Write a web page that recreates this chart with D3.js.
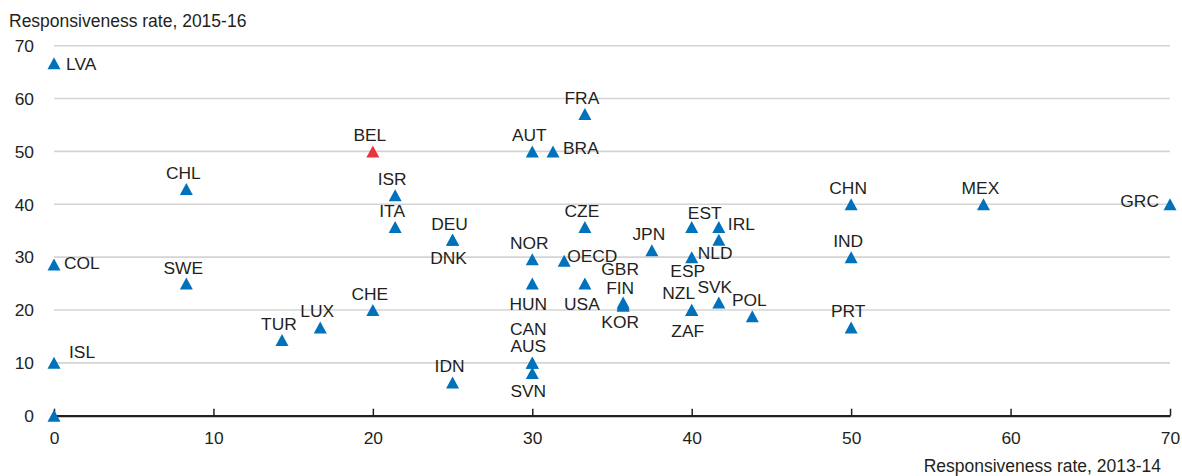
<!DOCTYPE html>
<html>
<head>
<meta charset="utf-8">
<script src="https://cdn.jsdelivr.net/npm/d3@7"></script>
<style>
  body { margin: 0; background: #fff; }
  text { font-family: "Liberation Sans", Arial, sans-serif; fill: #231f20; }
</style>
</head>
<body>
<div id="chart"></div>
<script>
// country codes and responsiveness rates (x: 2013-14, y: 2015-16)
var countries = ["LVA","BEL","CHL","ISR","ITA","COL","SWE","CHE","TUR","LUX","ISL","ZERO",
                 "IDN","AUT","BRA","FRA","CZE","DEU","DNK","NOR","OECD","JPN","EST","IRL",
                 "NLD","ESP","HUN","USA","GBR","FIN","KOR","NZL","ZAF","SVK","POL",
                 "CAN","AUS","SVN","CHN","MEX","GRC","IND","PRT"];
var rate2013 = [0, 20, 8.3, 21.4, 21.4, 0, 8.3, 20, 14.3, 16.7, 0, 0,
                25, 30, 31.3, 33.3, 33.3, 25, 25, 30, 32, 37.5, 40, 41.7,
                41.7, 40, 30, 33.3, 35.7, 35.7, 35.7, 40, 40, 41.7, 43.8,
                30, 30, 30, 50, 58.3, 70, 50, 50];
var rate2015 = [66.7, 50, 42.9, 41.7, 35.7, 28.6, 25, 20, 14.3, 16.7, 10, 0,
                6.3, 50, 50, 57.1, 35.7, 33.3, 33.3, 29.6, 29.3, 31.3, 35.7, 35.7,
                33.3, 30, 25, 25, 21.4, 21.1, 20.8, 20, 20, 21.4, 18.8,
                10, 10, 8.1, 40, 40, 40, 30, 16.7];
var highlight = ["BEL"];
var xTicks = [0, 10, 20, 30, 40, 50, 60, 70];
var yTicks = [0, 10, 20, 30, 40, 50, 60, 70];

// label placement: [dx, dy, anchor]
var labelPos = {
  LVA: [12, 7, "start"], COL: [10, 4, "start"], ISL: [15, -5, "start"], ZERO: null,
  BRA: [10, 3, "start"], OECD: [3, 1, "start"], IRL: [9, 3, "start"],
  NLD: [-21, 19, "start"], ESP: [-4, 20, "middle"],
  DNK: [-4, 24, "middle"], HUN: [-4, 26, "middle"], USA: [-3, 26, "middle"],
  GBR: [-3, -28, "middle"], FIN: [-3, -10, "middle"], KOR: [-3, 22, "middle"],
  NZL: [-13, -11, "middle"], ZAF: [-4, 27, "middle"], SVK: [-4, -10, "middle"],
  EST: [13, -8, "middle"], CAN: [-4, -28, "middle"], AUS: [-4, -11, "middle"],
  SVN: [-4, 24, "middle"], GRC: [-11, 3, "end"], LUX: [-3, -10, "middle"]
};

var data = countries.map(function(c, i){
  return {name: c, x: rate2013[i], y: rate2015[i]};
});

var width = 1182, height = 476;
var margin = {top: 46, right: 12, bottom: 60, left: 54};

var svg = d3.select("#chart").append("svg")
  .attr("width", width)
  .attr("height", height);

var x = d3.scaleLinear().domain([0, 70]).range([margin.left, 1170]);
var y = d3.scaleLinear().domain([0, 70]).range([415.7, 45.7]);

// gridlines
svg.append("g")
  .selectAll("line")
  .data(yTicks.filter(function(d){ return d > 0; }))
  .enter().append("line")
  .attr("x1", x(0)).attr("x2", x(70))
  .attr("y1", function(d){ return y(d); })
  .attr("y2", function(d){ return y(d); })
  .style("stroke", "#d4d4d4")
  .style("stroke-width", 1.6);

// y tick labels
svg.append("g")
  .selectAll("text")
  .data(yTicks)
  .enter().append("text")
  .attr("x", 34)
  .attr("y", function(d){ return y(d); })
  .attr("dy", "0.36em")
  .style("text-anchor", "end")
  .style("font-size", "17.4px")
  .text(function(d){ return d; });

// x axis
var xAxis = d3.axisBottom(x).tickValues(xTicks).tickSize(0).tickPadding(16);
var gx = svg.append("g")
  .attr("transform", "translate(0," + y(0) + ")")
  .call(xAxis);
gx.select(".domain").style("stroke", "#231f20").style("stroke-width", 2.2);
gx.selectAll("text")
  .style("font-size", "17.4px")
  .style("font-family", "Liberation Sans, Arial, sans-serif")
  .attr("fill", "#231f20");
gx.selectAll(".tick").append("line")
  .attr("y1", 0).attr("y2", -7)
  .style("stroke", "#231f20").style("stroke-width", 1.5);

// axis titles
svg.append("text")
  .attr("x", 9).attr("y", 26.5)
  .style("font-size", "17.5px")
  .text("Responsiveness rate, 2015-16");
svg.append("text")
  .attr("x", 1161).attr("y", 471.5)
  .style("text-anchor", "end")
  .style("font-size", "17.5px")
  .text("Responsiveness rate, 2013-14");

// triangle centred on its bounding box
var tri = {
  draw: function(context, size){
    var w = 13, h = 12;
    context.moveTo(0, -h / 2);
    context.lineTo(w / 2, h / 2);
    context.lineTo(-w / 2, h / 2);
    context.closePath();
  }
};

svg.append("g")
  .selectAll("path")
  .data(data)
  .enter().append("path")
  .attr("d", d3.symbol().type(tri))
  .attr("transform", function(d){ return "translate(" + x(d.x) + "," + y(d.y) + ")"; })
  .style("fill", function(d){ return highlight.indexOf(d.name) >= 0 ? "#e8343c" : "#0072bc"; });

// labels
svg.append("g")
  .selectAll("text")
  .data(data.filter(function(d){ return labelPos[d.name] !== null; }))
  .enter().append("text")
  .attr("x", function(d){
    var p = labelPos[d.name] || [-3, -10, "middle"];
    return x(d.x) + p[0];
  })
  .attr("y", function(d){
    var p = labelPos[d.name] || [-3, -10, "middle"];
    return y(d.y) + p[1];
  })
  .style("text-anchor", function(d){
    var p = labelPos[d.name] || [-3, -10, "middle"];
    return p[2];
  })
  .style("font-size", "17.4px")
  .text(function(d){ return d.name; });
</script>
</body>
</html>
